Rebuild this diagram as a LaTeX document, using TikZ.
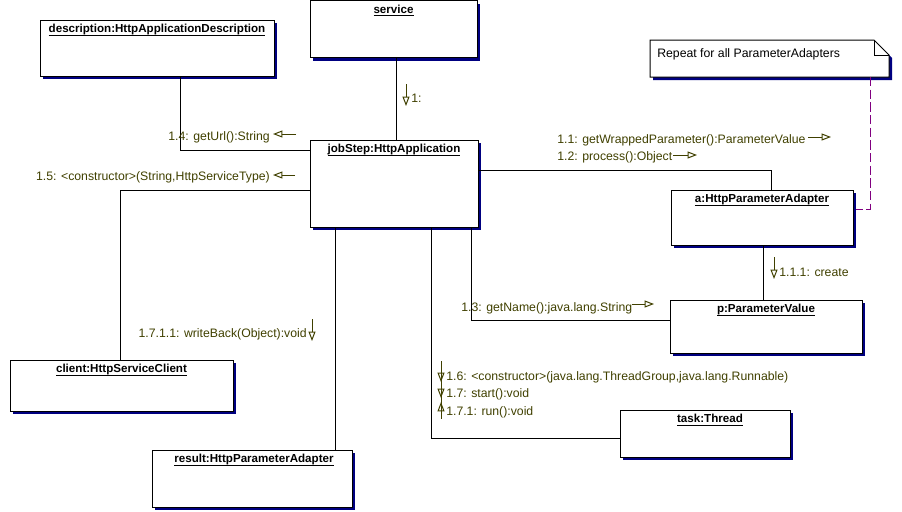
\documentclass[tikz,border=0pt]{standalone}
\usepackage{fontspec}
\setmainfont{Liberation Sans}
\usetikzlibrary{shadows,arrows.meta}
\definecolor{msgcol}{RGB}{64,64,0}
\definecolor{shadowcol}{RGB}{0,0,128}
\definecolor{notelink}{RGB}{128,0,128}
\newcommand\ulbl[1]{\setbox0\hbox{#1}\rlap{\rule[-2.4pt]{\wd0}{0.75pt}}\box0}
\tikzset{
  px/.style={x=0.75pt,y=-0.75pt},
  objbox/.style 2 args={draw=black, fill=white, line width=0.75pt, inner sep=0pt, outer sep=0pt,
    anchor=north west, minimum width=#1*0.75pt, minimum height=#2*0.75pt,
    drop shadow={shadow xshift=2.6pt, shadow yshift=-2.6pt, fill=shadowcol, opacity=1}},
  titletext/.style={anchor=base, inner sep=0pt, font=\fontsize{8.7}{10}\selectfont\bfseries},
  msgtext/.style={inner sep=0pt, text=msgcol, font=\fontsize{9.2}{10}\selectfont},
  notetext/.style={inner sep=0pt, text=black, font=\fontsize{9.2}{10}\selectfont},
  link/.style={draw=black, line width=0.75pt},
  msg/.style={draw=msgcol, line width=0.75pt, -{Triangle[open, length=7pt, width=5.2pt]}},
  tri/.style={draw=msgcol, line width=0.75pt, -{Triangle[open, length=7pt, width=5.2pt]}},
}
\begin{document}
\begin{tikzpicture}[px]
\useasboundingbox (0,0) rectangle (902,511);
% objects
\node[objbox={234}{56}] (desc) at (40,20) {};
\node[objbox={167}{57}] (svc) at (310,0.5) {};
\node[objbox={168}{87}] (job) at (310,140) {};
\node[objbox={182}{55}] (a) at (671,190) {};
\node[objbox={192}{53}] (p) at (670,300) {};
\node[objbox={223}{51}] (client) at (10,360) {};
\node[objbox={200}{57}] (result) at (152,450) {};
\node[objbox={170}{47}] (task) at (620,410) {};
% titles
\node[titletext] (desc-t) at ([yshift=-9.4pt]desc.north) {\ulbl{description:HttpApplicationDescription}};
\node[titletext] (svc-t) at ([yshift=-9.4pt]svc.north) {\ulbl{service}};
\node[titletext] (job-t) at ([yshift=-9.4pt]job.north) {\ulbl{jobStep:HttpApplication}};
\node[titletext] (a-t) at ([yshift=-9.4pt]a.north) {\ulbl{a:HttpParameterAdapter}};
\node[titletext] (p-t) at ([yshift=-9.4pt]p.north) {\ulbl{p:ParameterValue}};
\node[titletext] (client-t) at ([yshift=-9.4pt]client.north) {\ulbl{client:HttpServiceClient}};
\node[titletext] (result-t) at ([yshift=-9.4pt,xshift=1.5pt]result.north) {\ulbl{result:HttpParameterAdapter}};
\node[titletext] (task-t) at ([yshift=-9.4pt,xshift=3.75pt]task.north) {\ulbl{task:Thread}};
% note
\node[inner sep=0pt, outer sep=0pt, anchor=north west, minimum width=239*0.75pt, minimum height=37*0.75pt] (note) at (650,40) {};
\fill[shadowcol] (653,43) -- (877,43) -- (892,58) -- (892,80) -- (653,80) -- cycle;
\filldraw[fill=white, draw=black, line width=0.75pt] (note.south west) -- (note.north west) -- (874,40) -- (889,55) -- (note.south east) -- cycle;
\draw[line width=0.75pt] (874,40) -- (874,55) -- (889,55);
\node[notetext, anchor=base west] (note-t) at (657,57) {Repeat for all ParameterAdapters};
% links
\draw[link] (svc.south -| 396,0) -- (job.north -| 396,0);
\draw[link] (desc.south -| 180,0) |- (job.west |- 0,150);
\draw[link] (job.west |- 0,190) -| (client.north -| 120,0);
\draw[link] (job.south -| 335,0) -- (result.north -| 335,0);
\draw[link] (job.east |- 0,170) -| (a.north -| 771,0);
\draw[link] (job.south -| 471,0) |- (p.west |- 0,320);
\draw[link] (job.south -| 431,0) |- (task.west |- 0,438);
\draw[link] (a.south -| 763,0) -- (p.north -| 763,0);
\draw[draw=notelink, line width=0.75pt, dash pattern=on 7pt off 2.5pt] (note.south -| 870,0) |- ([xshift=2.6pt]a.east |- 0,209);
% messages
\node[msgtext, anchor=base west] (m1) at (411,102) {1:};
\draw[msg] (406,84) -- (406,106);
\node[msgtext, anchor=base east] (m14) at (270,140) {1.4: getUrl():String};
\draw[msg] (296,134) -- (273,134);
\node[msgtext, anchor=base east] (m15) at (270,180) {1.5: <constructor>(String,HttpServiceType)};
\draw[msg] (295,175) -- (273,175);
\node[msgtext, anchor=base west] (m11) at (557,143) {1.1: getWrappedParameter():ParameterValue};
\draw[msg] (808,137) -- (831,137);
\node[msgtext, anchor=base west] (m12) at (557,160.5) {1.2: process():Object};
\draw[msg] (673,155) -- (697,155);
\node[msgtext, anchor=base west] (m111) at (779,276) {1.1.1: create};
\draw[msg] (774,257) -- (774,279);
\node[msgtext, anchor=base west] (m13) at (461,311) {1.3: getName():java.lang.String};
\draw[msg] (632,304) -- (654,304);
\node[msgtext, anchor=base east] (m1711) at (307,337) {1.7.1.1: writeBack(Object):void};
\draw[msg] (312,319) -- (312,341);
\node[msgtext, anchor=base west] (m16) at (446,380) {1.6: <constructor>(java.lang.ThreadGroup,java.lang.Runnable)};
\node[msgtext, anchor=base west] (m17) at (446,397) {1.7: start():void};
\node[msgtext, anchor=base west] (m171) at (446,415) {1.7.1: run():void};
\draw[draw=msgcol, line width=0.75pt] (441,361) -- (441,419);
\draw[tri] (441,371) -- (441,382);
\draw[tri] (441,389) -- (441,398);
\draw[tri] (441,409) -- (441,402);
\end{tikzpicture}
\end{document}
